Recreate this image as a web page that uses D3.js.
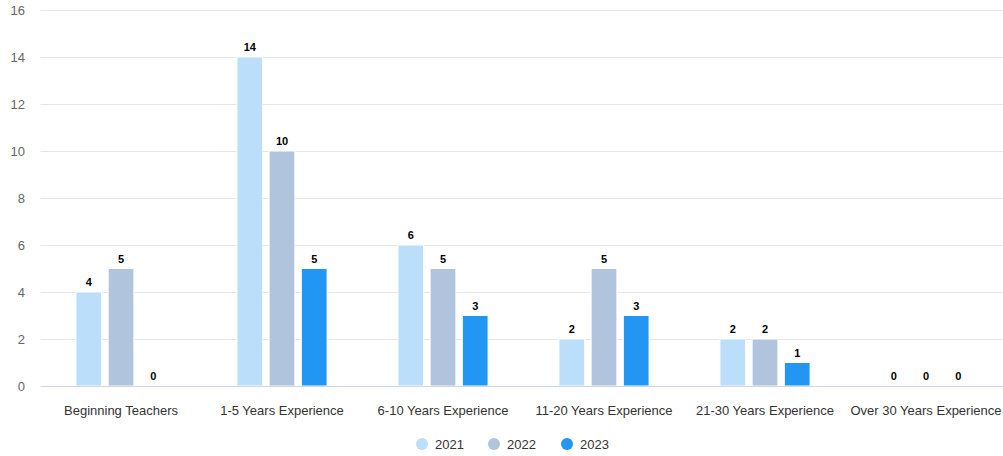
<!DOCTYPE html>
<html><head><meta charset="utf-8">
<script src="https://cdn.jsdelivr.net/npm/d3@7"></script>
<style>body{margin:0;background:#fff;overflow:hidden}svg{display:block;font-family:"Liberation Sans",Arial,Helvetica,sans-serif}</style>
</head><body><svg id="c" width="1003" height="456"></svg>
<script>
const categories = ["Beginning Teachers","1-5 Years Experience","6-10 Years Experience","11-20 Years Experience","21-30 Years Experience","Over 30 Years Experience"];
const seriesNames = ["2021","2022","2023"];
const values2021 = [4,14,6,2,2,0];
const values2022 = [5,10,5,5,2,0];
const values2023 = [0,5,3,3,1,0];
const colors = ["#bbdefb","#b0c4de","#2196f3"];
const yTicks = [0,2,4,6,8,10,12,14,16];

const series = [values2021, values2022, values2023];
const svg = d3.select("#c");
const plotLeft = 40.5, plotRight = 1006.5, plotTop = 10, plotBottom = 386;
const x = d3.scaleBand().domain(categories).range([plotLeft, plotRight]).paddingInner(0).paddingOuter(0);
const y = d3.scaleLinear().domain([0,16]).range([plotBottom, plotTop]);
const cw = x.bandwidth();
const xs = d3.scaleBand().domain(seriesNames).range([cw*0.2, cw*0.8]).paddingInner(0.2).paddingOuter(0.1);

// grid
svg.append("g").selectAll("line").data(yTicks.filter(d=>d>0)).join("line")
  .attr("x1", plotLeft).attr("x2", 1003).attr("y1", d=>Math.round(y(d))+0.5).attr("y2", d=>Math.round(y(d))+0.5)
  .attr("stroke","#e6e6e6").attr("stroke-width",1);
// y labels
svg.append("g").selectAll("text").data(yTicks).join("text")
  .attr("x", 25).attr("y", d=>y(d)+5).attr("text-anchor","end")
  .attr("font-size","13px").attr("fill","#666").text(d=>d);

// bars
seriesNames.forEach((s,i)=>{
  const g = svg.append("g");
  g.selectAll("rect").data(categories).join("rect")
    .attr("x", c=>x(c)+xs(s)).attr("width", xs.bandwidth())
    .attr("y", (c,j)=>y(series[i][j])).attr("height", (c,j)=>plotBottom - y(series[i][j]))
    .attr("fill", colors[i]).attr("stroke","#fff").attr("stroke-width",1);
});
// axis line
svg.append("line").attr("x1",plotLeft).attr("x2",1003).attr("y1",plotBottom+0.5).attr("y2",plotBottom+0.5).attr("stroke","#ccd6eb");

// labels
seriesNames.forEach((s,i)=>{
  svg.append("g").selectAll("text").data(categories).join("text")
    .attr("x", c=>x(c)+xs(s)+xs.bandwidth()/2)
    .attr("y", (c,j)=>y(series[i][j]) - 6)
    .attr("text-anchor","middle").attr("font-size","11px").attr("font-weight","bold")
    .attr("fill","#000").attr("stroke","#fff").attr("stroke-width",2).attr("paint-order","stroke")
    .text((c,j)=>series[i][j]);
});

// category labels
svg.append("g").selectAll("text").data(categories).join("text")
  .attr("x", c=>x(c)+cw/2).attr("y", 414.5).attr("text-anchor","middle")
  .attr("font-size","13px").attr("fill","#333").text(c=>c);

// legend
const legX = [422, 494, 567];
seriesNames.forEach((s,i)=>{
  svg.append("circle").attr("cx", legX[i]).attr("cy", 444).attr("r", 6).attr("fill", colors[i]);
  svg.append("text").attr("x", legX[i]+13).attr("y", 449).attr("font-size","13px").attr("fill","#333").text(s);
});
</script></body></html>
